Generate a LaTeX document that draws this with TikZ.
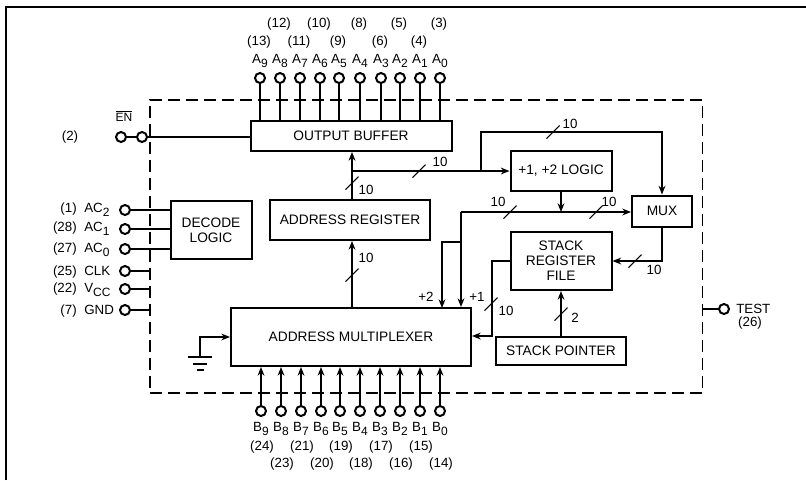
\documentclass[tikz,border=0pt]{standalone}
\usepackage{fontspec}
\setmainfont{Liberation Sans}
\usetikzlibrary{arrows.meta, positioning, calc}
\newcommand{\px}{0.75pt}
\newcommand{\lowsub}[1]{\raisebox{-3pt}{\fontsize{9}{9}\selectfont #1}}
\begin{document}
\begin{tikzpicture}[
  x=\px, y=-\px,
  block/.style={draw, line width=1.5pt, inner sep=0pt, align=center, font=\fontsize{10.3}{11.2}\selectfont},
  pin/.style={circle, draw, line width=1.5pt, inner sep=0pt, minimum size=10*\px},
  wire/.style={line width=0.95pt},
  a/.style={-{Stealth[length=2.3mm, width=1.8mm]}, line width=0.95pt},
  lbl/.style={inner sep=0pt, font=\fontsize{10}{10}\selectfont}
]
\useasboundingbox (0,0) rectangle (806,480);
\draw[line width=1.1pt] (6,480) -- (6,7) -- (806,7);

\node[draw, dash pattern=on 9pt off 4.5pt, line width=1pt, inner sep=0pt,
      minimum width=552.5*\px, minimum height=293*\px] (chip) at (426.25,246.5) {};

\node[block, minimum width=201*\px, minimum height=30*\px] (buffer) at (351,136) {OUTPUT BUFFER};
\node[block, minimum width=160*\px, minimum height=40*\px] (addrreg) at (350,220) {ADDRESS REGISTER};
\node[block, minimum width=81*\px, minimum height=58*\px] (decode) at (211,230) {DECODE\\LOGIC};
\node[block, minimum width=240*\px, minimum height=58*\px] (addrmux) at (351,337) {ADDRESS MULTIPLEXER};
\node[block, minimum width=101*\px, minimum height=40*\px] (logic) at (561,171) {+1, +2 LOGIC};
\node[block, minimum width=60*\px, minimum height=31*\px] (mux) at (662,211) {MUX};
\node[block, minimum width=101*\px, minimum height=58*\px] (stack) at (561,261) {STACK\\REGISTER\\FILE};
\node[block, minimum width=130*\px, minimum height=28*\px] (sp) at (561,351) {STACK POINTER};

% pins on top and bottom
\foreach \x/\n/\num/\ny in {260/9/13/42,280/8/12/24,300/7/11/42,320/6/10/24,339/5/9/42,
                            360/4/8/24,381/3/6/42,400/2/5/24,420/1/4/42,440/0/3/24} {
  \node[pin] (a\n) at (\x,78) {};
  \node[lbl, anchor=base] (alab\n) at (\x,63) {A\lowsub{\n}};
  \node[lbl] (anum\n) at (\x-1,\ny) {(\num)};
  \draw[wire] (a\n) -- (a\n |- buffer.north);
}
\foreach \x/\n/\num/\ny in {261/9/24/447,281/8/23/464,301/7/21/447,321/6/20/464,340/5/19/447,
                            360/4/18/464,380/3/17/447,400/2/16/464,420/1/15/447,440/0/14/464} {
  \node[pin] (b\n) at (\x,411) {};
  \node[lbl, anchor=base] (blab\n) at (\x,431) {B\lowsub{\n}};
  \node[lbl] (bnum\n) at (\x+1,\ny) {(\num)};
  \draw[a] (b\n) -- (b\n |- addrmux.south);
}

% pins on the left
\foreach \y/\name/\num/\txt/\base in {210/ac2/(1)/AC\lowsub{2}/212,229/ac1/(28)/AC\lowsub{1}/231,249/ac0/(27)/AC\lowsub{0}/252,
                           271/clk/(25)/CLK/275,289/vcc/(22)/V\lowsub{CC}/292,310/gnd/(7)/GND/314} {
  \node[pin] (\name) at (125,\y) {};
  \node[lbl, anchor=base west] (\name txt) at (84,\base) {\txt};
  \node[lbl, anchor=base east] (\name num) at (77,\base) {\num};
}
\draw[wire] (ac2) -- (ac2 -| decode.west);
\draw[wire] (ac1) -- (ac1 -| decode.west);
\draw[wire] (ac0) -- (ac0 -| decode.west);
\draw[wire] (clk) -- (clk -| chip.west);
\draw[wire] (vcc) -- (vcc -| chip.west);
\draw[wire] (gnd) -- (gnd -| chip.west);

\node[pin] (en1) at (121,137) {};
\node[pin] (en2) at (142,137) {};
\node[lbl, font=\fontsize{9}{9}\selectfont] (enlab) at (124,116) {$\overline{\mbox{EN}}$};
\node[lbl] (enum) at (70,137) {(2)};
\draw[wire] (en1) -- (en2);
\draw[wire] (en2) -- (en2 -| buffer.west);

\node[pin] (test) at (724,309) {};
\node[lbl, anchor=west] (testlab) at (736,309) {TEST};
\node[lbl] (testnum) at (750,323) {(26)};
\draw[wire] (test) -- (test -| chip.east);

% ground
\coordinate (gnd0) at (200,357);
\draw[a] (gnd0) |- (addrmux.west);
\draw[line width=1.3pt] (188,357) -- (212,357) (193,364) -- (207,364) (197,370) -- (204,370);

% buses
\coordinate (j1) at (352,171);
\coordinate (j2) at (481,171);
\coordinate (j3) at (461,212);
\coordinate (j4) at (461,242);
\coordinate (j5) at (561,212);
\draw[a] (j1 |- addrmux.north) -- (j1 |- addrreg.south);
\draw[a] (j1 |- addrreg.north) -- (j1 |- buffer.south);
\draw[a] (j1) -- (logic.west);
\draw[a] (j2) |- (662,132) -- (mux.north);
\draw[a] (logic.south) -- (j5);
\draw[a] (j3) -- (j3 -| mux.west);
\draw[a] (j3) -- (j3 |- addrmux.north);
\draw[a] (j4) -| (442,308);
\draw[a] (mux.south) |- (stack.east);
\draw[a] (stack.west) -| (492,336) -- (492,336 -| addrmux.east);
\draw[a] (sp.north) -- (stack.south);

\foreach \x/\y/\lx/\ly/\txt [count=\k] in {352/183/366/190/10,419/171/440/162/10,553/132/570/124/10,
    510/212/498/202/10,596/212/609/202/10,635/261/654/270/10,491/304/506/311/10,
    561/314/575/318/2,352/275/366/258/10} {
  \draw[wire, line width=0.8pt] (\x-6.5,\y+6.5) -- (\x+6.5,\y-6.5);
  \node[lbl] (bus\k) at (\lx,\ly) {\txt};
}
\node[lbl] (plus2) at (426,297) {+2};
\node[lbl] (plus1) at (477,297) {+1};
\end{tikzpicture}
\end{document}
